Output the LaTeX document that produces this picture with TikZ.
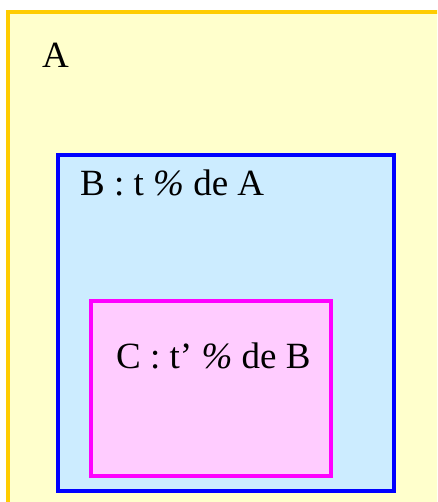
\documentclass[tikz,border=0pt]{standalone}
\usepackage{fontspec}
\setmainfont{Liberation Serif}
\usepackage{tikz}
\usetikzlibrary{positioning}

\definecolor{setAfill}{HTML}{FFFFCC}
\definecolor{setAline}{HTML}{FFCC00}
\definecolor{setBfill}{HTML}{CCECFF}
\definecolor{setBline}{HTML}{0000FF}
\definecolor{setCfill}{HTML}{FFCCFF}
\definecolor{setCline}{HTML}{FF00FF}

\begin{document}
\begin{tikzpicture}[
      x=1pt, y=-1pt,
      setbox/.style = {rectangle, draw, inner sep=0pt, outer sep=0pt,
                       anchor=north west},
      setlabel/.style = {anchor=base west, inner sep=0pt,
                         font=\fontsize{37}{44}\selectfont}
    ]
    \useasboundingbox (0,0) rectangle (437,502);
    \begin{scope}
      \clip (0,0) rectangle (437,502);
      % outer set, runs past the right and bottom edges
      \node[setbox, line width=3.5pt, draw=setAline, fill=setAfill,
            minimum width=450pt, minimum height=510pt] (A) at (8,12) {};
    \end{scope}
    \node[setbox, line width=4pt, draw=setBline, fill=setBfill,
          minimum width=336pt, minimum height=336pt] (B) at (58,155) {};
    \node[setbox, line width=4pt, draw=setCline, fill=setCfill,
          minimum width=240pt, minimum height=175pt] (C) at (91,301) {};

    \node[setlabel] (Alabel) at (42,68)  {A};
    \node[setlabel] (Blabel) at (80,196) {B : t \textit{\%} de A};
    \node[setlabel] (Clabel) at (116,368) {C : t’ \textit{\%} de B};
\end{tikzpicture}
\end{document}
